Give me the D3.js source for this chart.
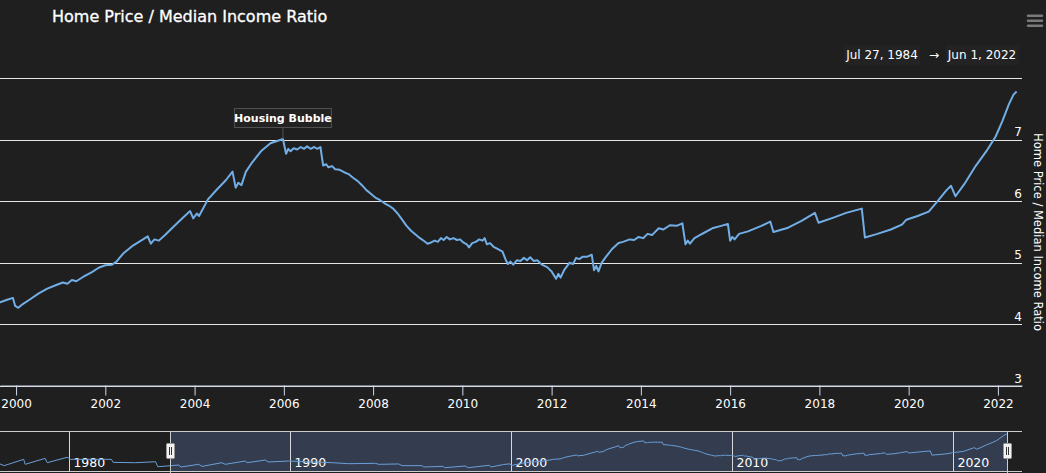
<!DOCTYPE html>
<html><head><meta charset="utf-8">
<script src="https://cdn.jsdelivr.net/npm/d3@7"></script>
<style>
html,body{margin:0;padding:0;background:#1f1f1f;}
svg{display:block;font-family:"DejaVu Sans",sans-serif;}
</style></head>
<body><svg id="c" width="1046" height="473"></svg>
<script>
// ---- data (decimal year, ratio) ----
const chartTitle = "Home Price / Median Income Ratio";
const rangeFrom = "Jul 27, 1984";
const rangeTo = "Jun 1, 2022";
const annotationText = "Housing Bubble";
const annotationPoint = [2005.98, 7.01];

const xTickYears = [2000,2002,2004,2006,2008,2010,2012,2014,2016,2018,2020,2022];
const yTickValues = [3,4,5,6,7,8];
const navTickYears = [1980,1990,2000,2010,2020];

const earlySeries = [
[1976.86,4.42],[1977.05,4.23],[1977.93,4.94],[1978.00,4.38],[1978.90,5.05],[1979.00,4.56],
[1979.90,5.17],[1980.05,4.94],[1981.90,4.94],[1981.98,4.60],[1983.00,4.56],[1983.90,4.67],
[1984.00,4.11],[1984.95,4.30],[1985.05,4.08],[1985.85,4.38],[1986.00,4.15],[1986.90,4.56],
[1987.05,4.38],[1987.96,4.75],[1988.03,4.56],[1988.87,4.86],[1988.99,4.64],[1989.92,4.75],
[1991.90,4.56],[1992.64,4.45],[1993.85,4.49],[1994.00,4.38],[1994.90,4.42],[1995.05,4.23],
[1995.95,4.23],[1996.03,4.08],[1996.90,4.15],[1996.98,4.00],[1997.90,4.19],[1998.05,4.00],
[1999.00,4.27],[1999.08,4.08]
];

const mainSeries = [
[1999.64,4.36],[1999.80,4.40],[1999.93,4.43],[1999.98,4.30],[2000.05,4.27],[2000.15,4.33],
[2000.30,4.40],[2000.50,4.50],[2000.70,4.58],[2000.90,4.64],[2001.05,4.68],[2001.15,4.66],
[2001.25,4.72],[2001.35,4.70],[2001.50,4.77],[2001.70,4.85],[2001.85,4.92],[2002.00,4.96],
[2002.15,4.97],[2002.25,5.02],[2002.40,5.15],[2002.60,5.27],[2002.80,5.36],[2002.95,5.43],
[2003.02,5.31],[2003.10,5.38],[2003.20,5.36],[2003.35,5.46],[2003.55,5.60],[2003.75,5.74],
[2003.90,5.84],[2003.97,5.72],[2004.05,5.80],[2004.10,5.76],[2004.30,6.03],[2004.50,6.19],
[2004.70,6.34],[2004.85,6.48],[2004.92,6.22],[2004.98,6.30],[2005.05,6.26],[2005.15,6.48],
[2005.30,6.64],[2005.50,6.82],[2005.70,6.94],[2005.90,6.99],[2005.98,7.01],[2006.05,6.77],
[2006.10,6.85],[2006.15,6.81],[2006.22,6.86],[2006.30,6.84],[2006.38,6.88],[2006.45,6.85],
[2006.52,6.89],[2006.60,6.85],[2006.68,6.88],[2006.75,6.85],[2006.82,6.88],[2006.88,6.58],
[2006.95,6.60],[2007.00,6.55],[2007.08,6.57],[2007.15,6.52],[2007.25,6.51],[2007.35,6.47],
[2007.45,6.44],[2007.55,6.38],[2007.65,6.33],[2007.75,6.26],[2007.85,6.18],[2007.95,6.12],
[2008.05,6.06],[2008.15,6.02],[2008.25,5.97],[2008.35,5.93],[2008.45,5.88],[2008.55,5.80],
[2008.65,5.70],[2008.75,5.60],[2008.85,5.52],[2008.95,5.46],[2009.05,5.40],[2009.15,5.35],
[2009.22,5.31],[2009.30,5.33],[2009.38,5.36],[2009.45,5.34],[2009.52,5.40],[2009.58,5.37],
[2009.65,5.42],[2009.72,5.38],[2009.80,5.40],[2009.88,5.37],[2009.95,5.38],[2010.02,5.33],
[2010.10,5.30],[2010.15,5.25],[2010.22,5.32],[2010.30,5.34],[2010.38,5.38],[2010.45,5.36],
[2010.50,5.40],[2010.55,5.30],[2010.62,5.32],[2010.70,5.26],[2010.80,5.22],[2010.90,5.18],
[2010.97,5.05],[2011.02,4.98],[2011.08,5.02],[2011.14,4.97],[2011.22,5.04],[2011.30,5.03],
[2011.38,5.08],[2011.45,5.04],[2011.52,5.09],[2011.60,5.03],[2011.68,5.04],[2011.78,4.97],
[2011.90,4.93],[2012.00,4.86],[2012.05,4.80],[2012.10,4.74],[2012.15,4.82],[2012.20,4.76],
[2012.28,4.88],[2012.40,5.00],[2012.48,4.98],[2012.55,5.08],[2012.62,5.06],[2012.70,5.10],
[2012.80,5.10],[2012.90,5.13],[2012.95,4.88],[2013.00,4.95],[2013.05,4.86],[2013.12,5.00],
[2013.20,5.08],[2013.35,5.22],[2013.50,5.32],[2013.60,5.34],[2013.75,5.38],[2013.85,5.37],
[2013.95,5.42],[2014.05,5.40],[2014.15,5.47],[2014.25,5.45],[2014.40,5.56],[2014.50,5.54],
[2014.65,5.61],[2014.80,5.60],[2014.93,5.64],[2015.00,5.30],[2015.05,5.36],[2015.10,5.31],
[2015.20,5.40],[2015.30,5.44],[2015.45,5.50],[2015.60,5.56],[2015.80,5.60],[2015.95,5.63],
[2016.00,5.36],[2016.05,5.42],[2016.10,5.38],[2016.20,5.47],[2016.40,5.51],[2016.70,5.60],
[2016.90,5.67],[2016.97,5.50],[2017.30,5.57],[2017.60,5.68],[2017.90,5.81],[2017.98,5.65],
[2018.30,5.73],[2018.60,5.81],[2018.95,5.88],[2019.02,5.41],[2019.30,5.47],[2019.60,5.54],
[2019.85,5.62],[2019.95,5.70],[2020.20,5.76],[2020.45,5.83],[2020.65,6.00],[2020.85,6.18],
[2020.95,6.25],[2021.05,6.08],[2021.25,6.28],[2021.50,6.57],[2021.75,6.82],[2021.95,7.05],
[2022.10,7.30],[2022.25,7.58],[2022.35,7.73],[2022.42,7.78]
];

// ---- layout ----
const svg = d3.select("#c");
const W = 1046, H = 473;
const plotL = 0, plotR = 1022, plotT = 78, plotB = 386;
const navT = 431, navB = 471;
const lineColor = "#72aee6";

const x = d3.scaleLinear().domain([1999.64, 2022.54]).range([plotL, plotR]);
const y = d3.scaleLinear().domain([3, 8]).range([plotB, plotT]);
const xN = d3.scaleLinear().domain([1976.86, 2023.1]).range([0, 1022]);
const yN = d3.scaleLinear().domain([4, 7]).range([467.7, 441]);

svg.append("rect").attr("width", W).attr("height", H).attr("fill", "#1f1f1f");

// title
svg.append("text").attr("x", 52).attr("y", 22).attr("fill", "#ffffff")
  .attr("font-size", 16).attr("stroke", "#ffffff").attr("stroke-width", 0.3).text(chartTitle);

// menu icon
const menu = svg.append("g").attr("stroke", "#7a7a7a").attr("stroke-width", 2.5).attr("stroke-linecap","round");
[15.7, 20.7, 25.7].forEach(yy => menu.append("line").attr("x1", 1028).attr("x2", 1042).attr("y1", yy).attr("y2", yy));

// range selector texts
const rg = svg.append("g").attr("font-size", 12).attr("fill", "#ffffff");
rg.append("rect").attr("x", 844).attr("y", 45).attr("width", 76).attr("height", 20).attr("fill", "#232323");
rg.append("rect").attr("x", 946).attr("y", 45).attr("width", 73).attr("height", 20).attr("fill", "#232323");
rg.append("text").attr("x", 882).attr("y", 59).attr("text-anchor", "middle").text(rangeFrom);
rg.append("text").attr("x", 934).attr("y", 59).attr("text-anchor", "middle").text("\u2192");
rg.append("text").attr("x", 982).attr("y", 59).attr("text-anchor", "middle").text(rangeTo);

// gridlines + y labels
const yg = svg.append("g");
yTickValues.forEach(v => {
  yg.append("line").attr("x1", plotL).attr("x2", plotR).attr("y1", Math.round(y(v)) + 0.5).attr("y2", Math.round(y(v)) + 0.5)
    .attr("stroke", "#e6e6e6").attr("stroke-width", 1);
  if (v < 8) yg.append("text").attr("x", plotR).attr("y", y(v) - 3.5).attr("text-anchor", "end")
    .attr("fill", "#ffffff").attr("font-size", 12).text(v);
});
// y-axis title
svg.append("text").attr("transform", `translate(1034,232) rotate(90)`)
  .attr("text-anchor", "middle").attr("fill", "#ffffff").attr("font-size", 11.5).text(chartTitle);

// x axis
const xAxisG = svg.append("g").attr("transform", `translate(0,${plotB - 0.5})`)
  .call(d3.axisBottom(x).tickValues(xTickYears).tickFormat(d3.format("d")).tickSizeInner(10).tickSizeOuter(0).tickPadding(4));
xAxisG.select(".domain").attr("stroke", "#ccd6eb");
xAxisG.selectAll(".tick line").attr("stroke", "#ccd6eb");
xAxisG.selectAll(".tick text").attr("fill", "#ffffff").attr("font-size", 12).attr("font-family", "DejaVu Sans");

// main line
svg.append("clipPath").attr("id", "clipMain").append("rect")
  .attr("x", plotL).attr("y", plotT - 20).attr("width", plotR - plotL).attr("height", plotB - plotT + 20);
const line = d3.line().x(d => x(d[0])).y(d => y(d[1]));
svg.append("path").datum(earlySeries.concat(mainSeries)).attr("clip-path", "url(#clipMain)")
  .attr("d", line).attr("fill", "none").attr("stroke", lineColor).attr("stroke-width", 2).attr("stroke-linejoin", "round");

// annotation
const ax = x(annotationPoint[0]), ay = y(annotationPoint[1]);
const ann = svg.append("g");
ann.append("line").attr("x1", ax).attr("x2", ax).attr("y1", 127).attr("y2", ay).attr("stroke", "#555555");
ann.append("rect").attr("x", ax - 48.5).attr("y", 108.5).attr("width", 97).attr("height", 19)
  .attr("fill", "#222222").attr("stroke", "#505050");
ann.append("text").attr("x", ax).attr("y", 122).attr("text-anchor", "middle").attr("fill", "#ffffff")
  .attr("font-size", 11).attr("font-weight", "bold").text(annotationText);

// ---- navigator ----
const nav = svg.append("g");
const selL = xN(1984.57), selR = xN(2022.42);
nav.append("rect").attr("x", selL).attr("y", navT).attr("width", selR - selL).attr("height", navB - navT)
  .attr("fill", "rgba(102,133,194,0.3)");
navTickYears.forEach(t => {
  nav.append("line").attr("x1", Math.round(xN(t)) + 0.5).attr("x2", Math.round(xN(t)) + 0.5)
    .attr("y1", navT).attr("y2", navB).attr("stroke", "#d8d8d8");
  nav.append("text").attr("x", xN(t) + 4).attr("y", 467).attr("fill", "#ffffff").attr("font-size", 12.5).text(t);
});
const navLine = d3.line().x(d => xN(d[0])).y(d => yN(d[1]));
nav.append("path").datum(earlySeries.concat(mainSeries)).attr("d", navLine).attr("fill", "none")
  .attr("stroke", "#6a9fd8").attr("stroke-width", 1);
nav.append("line").attr("x1", 0).attr("x2", 1022).attr("y1", navT + 0.5).attr("y2", navT + 0.5).attr("stroke", "#cccccc");
nav.append("line").attr("x1", 0).attr("x2", 1022).attr("y1", navB + 0.5).attr("y2", navB + 0.5).attr("stroke", "#cccccc");
[selL, selR].forEach(hx => {
  nav.append("line").attr("x1", Math.round(hx) + 0.5).attr("x2", Math.round(hx) + 0.5).attr("y1", navT).attr("y2", H).attr("stroke", "#cccccc");
  nav.append("rect").attr("x", Math.round(hx) - 3.5).attr("y", 443.5).attr("width", 8).attr("height", 15)
    .attr("fill", "#f2f2f2").attr("stroke", "#999999").attr("rx", 1);
  nav.append("line").attr("x1", Math.round(hx) - 0.5).attr("x2", Math.round(hx) - 0.5).attr("y1", 447).attr("y2", 455).attr("stroke", "#333333");
  nav.append("line").attr("x1", Math.round(hx) + 1.5).attr("x2", Math.round(hx) + 1.5).attr("y1", 447).attr("y2", 455).attr("stroke", "#333333");
});
</script></body></html>
